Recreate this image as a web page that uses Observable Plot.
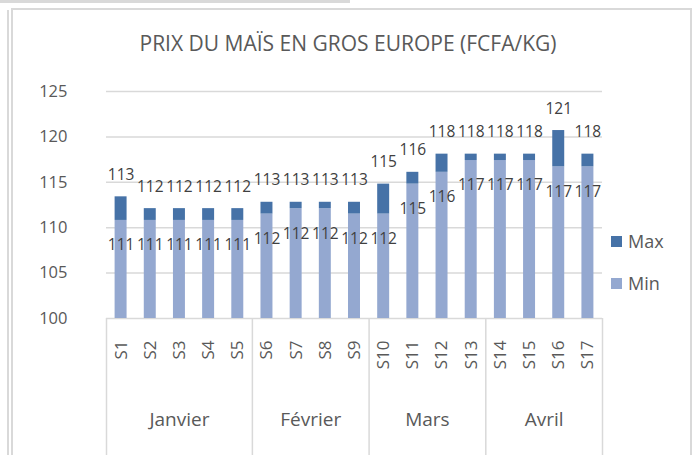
<!DOCTYPE html>
<html>
<head>
<meta charset="utf-8">
<script src="https://cdn.jsdelivr.net/npm/d3@7"></script>
<script src="https://cdn.jsdelivr.net/npm/@observablehq/plot@0.6"></script>
<style>
  html, body { margin: 0; padding: 0; background: #fff; overflow: hidden; }
  #wrap { position: relative; width: 696px; height: 455px; overflow: hidden; font-family: "Open Sans", sans-serif; }
  .ln { position: absolute; background: #d9d9d9; }
  #title { position: relative; height: 70px; box-sizing: border-box; padding-top: 32px; line-height: 22px;
           text-align: center; font-size: 21px; color: #595959; }
  #chart { position: relative; }
  #legend { position: absolute; left: 611px; top: 227px; font-size: 18px; color: #595959; }
  .item { display: flex; align-items: center; height: 28px; margin-bottom: 14px; }
  .sw { width: 11px; height: 11px; margin-right: 6px; }
</style>
</head>
<body>
<div id="wrap">
  <div class="ln" style="left:0;top:0;width:350px;height:3px;"></div>
  <div class="ln" style="left:7px;top:10px;width:2px;height:450px;"></div>
  <div class="ln" style="left:11px;top:8px;width:681px;height:2px;"></div>
  <div class="ln" style="left:11px;top:8px;width:2px;height:450px;"></div>
  <div class="ln" style="left:690px;top:8px;width:2px;height:450px;"></div>
  <div id="title">PRIX DU MAÏS EN GROS EUROPE (FCFA/KG)</div>
  <div id="chart"></div>
  <div id="legend"></div>
</div>
<script>
// ---- data ----
const weeks = ["S1","S2","S3","S4","S5","S6","S7","S8","S9","S10","S11","S12","S13","S14","S15","S16","S17"];
const months = ["Janvier","Février","Mars","Avril"];
const weeksPerMonth = [5, 4, 4, 4];
const minValues = [110.8,110.8,110.8,110.8,110.8,111.5,112.1,112.1,111.5,111.5,114.8,116.1,117.4,117.4,117.4,116.7,116.7];
const maxValues = [113.4,112.1,112.1,112.1,112.1,112.8,112.8,112.8,112.8,114.8,116.1,118.1,118.1,118.1,118.1,120.7,118.1];
const yTicks = [100, 105, 110, 115, 120, 125];
const seriesNames = ["Max", "Min"];

// ---- derived tables ----
const colors = {Max: "#4672a7", Min: "#94a8d0"};
const rows = weeks.map((w, k) => ({i: k + 1, week: w, min: minValues[k], max: maxValues[k]}));
let acc = 0;
const monthRows = months.map((m, k) => {
  const start = acc + 1, end = acc + weeksPerMonth[k];
  acc = end;
  return {month: m, start, end, center: (start + end) / 2};
});
const boundaries = [0.5, ...monthRows.map(d => d.end + 0.5)];
const fmt = d3.format(".0f");
const y0 = yTicks[0];

const W = 696, H = 385, mL = 106, mR = 94, mT = 21, mB = 137;
const inset = 8.6;
const labelColor = "#404040";
const axisColor = "#595959";
const gridColor = "#d9d9d9";

const chart = Plot.plot({
  width: W, height: H,
  marginLeft: mL, marginRight: mR, marginTop: mT, marginBottom: mB,
  style: {fontFamily: "Open Sans, sans-serif", background: "transparent"},
  x: {domain: [0.5, weeks.length + 0.5], axis: null},
  y: {domain: [yTicks[0], yTicks[yTicks.length - 1]], axis: null},
  marks: [
    Plot.ruleY(yTicks, {stroke: gridColor, strokeWidth: 1.5}),
    Plot.rectY(rows, {x1: d => d.i - 0.5, x2: d => d.i + 0.5, y1: y0, y2: "min",
      fill: colors.Min, insetLeft: inset, insetRight: inset}),
    Plot.rectY(rows, {x1: d => d.i - 0.5, x2: d => d.i + 0.5, y1: "min", y2: "max",
      fill: colors.Max, insetLeft: inset, insetRight: inset}),
    Plot.text(rows, {x: "i", y: "min", text: d => fmt(d.min), dy: 25, fontSize: 15.5, fill: labelColor}),
    Plot.text(rows, {x: "i", y: "max", text: d => fmt(d.max), dy: -22, fontSize: 15.5, fill: labelColor}),
    Plot.axisY(yTicks, {tickSize: 0, tickPadding: 39, fontSize: 16.5, color: axisColor}),
    Plot.axisX(rows.map(d => d.i), {tickFormat: i => weeks[i - 1], tickRotate: -90, tickSize: 0,
      tickPadding: 22, fontSize: 17, color: axisColor}),
    Plot.ruleX(boundaries, {stroke: gridColor, strokeWidth: 1.5, insetTop: H - mT - mB, insetBottom: -mB}),
    Plot.text(monthRows, {x: "center", text: "month", frameAnchor: "bottom", dy: 107, fontSize: 19, fill: axisColor})
  ]
});
document.getElementById("chart").appendChild(chart);

const legend = document.getElementById("legend");
seriesNames.forEach(name => {
  const item = document.createElement("div");
  item.className = "item";
  const sw = document.createElement("span");
  sw.className = "sw";
  sw.style.background = colors[name];
  const tx = document.createElement("span");
  tx.textContent = name;
  item.appendChild(sw); item.appendChild(tx);
  legend.appendChild(item);
});
</script>
</body>
</html>
